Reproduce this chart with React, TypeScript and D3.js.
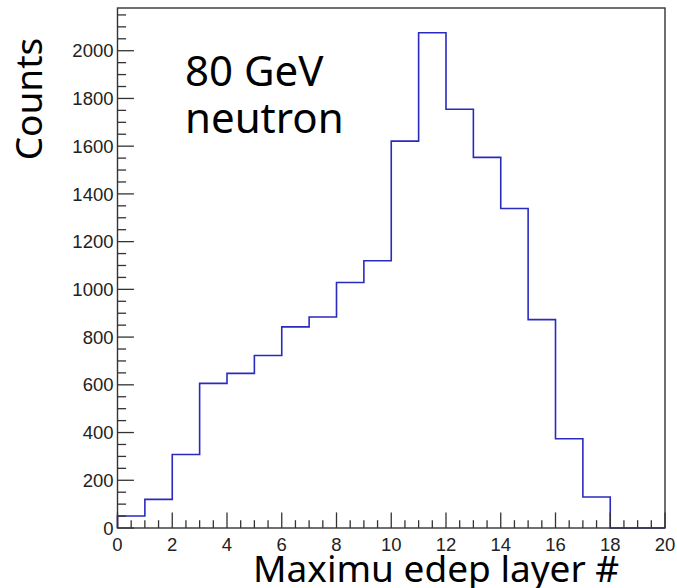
import React from "react";
import * as d3 from "d3";

// Histogram: bins of width 1 from 0 to 20
const binLowEdges = [0,1,2,3,4,5,6,7,8,9,10,11,12,13,14,15,16,17,18,19];
const counts = [50,120,308,606,648,723,843,884,1029,1120,1621,2075,1755,1553,1339,873,374,130,0,0];
const xMajorTicks = [0,2,4,6,8,10,12,14,16,18,20];
const yMajorTicks = [0,200,400,600,800,1000,1200,1400,1600,1800,2000];
const xTitle = "Maximu edep layer #";
const yTitle = "Counts";
const labelLines = ["80 GeV", "neutron"];

const W = 677, H = 588;
const L = 117.5, R = 665, T = 8, B = 528;

export default function App() {
  const x = d3.scaleLinear().domain([0, 20]).range([L, R]);
  const y = d3.scaleLinear().domain([0, 2179]).range([B, T]);

  // build step outline
  const pts: [number, number][] = [[binLowEdges[0], 0]];
  binLowEdges.forEach((lo, i) => {
    pts.push([lo, counts[i]]);
    pts.push([lo + 1, counts[i]]);
  });
  pts.push([binLowEdges[binLowEdges.length - 1] + 1, 0]);
  const line = d3.line<[number, number]>().x(d => x(d[0])).y(d => y(d[1]));

  const xMinor = d3.range(0, 20.001, 0.5);
  const yMinor = d3.range(0, 2179, 50);
  const axisColor = "#333";
  const tickFont = "'Liberation Sans', Arial, Helvetica, sans-serif";
  const bigFont = "'Noto Sans', 'Open Sans', sans-serif";

  return (
    <svg width={W} height={H} style={{ position: "absolute", left: 0, top: 0, background: "#fff" }}>
      <rect x={0} y={0} width={W} height={H} fill="#fff" />
      <path d={line(pts) || ""} fill="none" stroke="#2a2ac0" strokeWidth={1.6} />
      {/* frame */}
      <rect x={L} y={T} width={R - L} height={B - T} fill="none" stroke={axisColor} strokeWidth={1.4} />
      {/* x ticks */}
      {xMinor.map((v, i) => {
        const major = Math.abs(v / 2 - Math.round(v / 2)) < 1e-6;
        return (
          <line key={"xm" + i} x1={x(v)} x2={x(v)} y1={B} y2={B - (major ? 15.6 : 7.8)} stroke={axisColor} strokeWidth={1.3} />
        );
      })}
      {yMinor.map((v, i) => {
        const major = v % 200 === 0;
        return (
          <line key={"ym" + i} x1={L} x2={L + (major ? 16.4 : 8.6)} y1={y(v)} y2={y(v)} stroke={axisColor} strokeWidth={1.3} />
        );
      })}
      {/* tick labels */}
      {xMajorTicks.map(v => (
        <text key={"xl" + v} x={x(v)} y={551} textAnchor="middle" fontFamily={tickFont} fontSize={18.5} fill="#222">{v}</text>
      ))}
      {yMajorTicks.map(v => (
        <text key={"yl" + v} x={113.5} y={y(v) + 6.6} textAnchor="end" fontFamily={tickFont} fontSize={18.5} fill="#222">{v}</text>
      ))}
      {/* titles */}
      <text x={253} y={582} fontFamily={bigFont} fontSize={37} fill="#000">{xTitle}</text>
      <text transform="translate(42,99) rotate(-90)" textAnchor="middle" fontFamily={bigFont} fontSize={37} fill="#000">{yTitle}</text>
      {labelLines.map((s, i) => (
        <text key={s} x={185} y={86 + i * 47} fontFamily={bigFont} fontSize={42} fill="#000">{s}</text>
      ))}
    </svg>
  );
}
